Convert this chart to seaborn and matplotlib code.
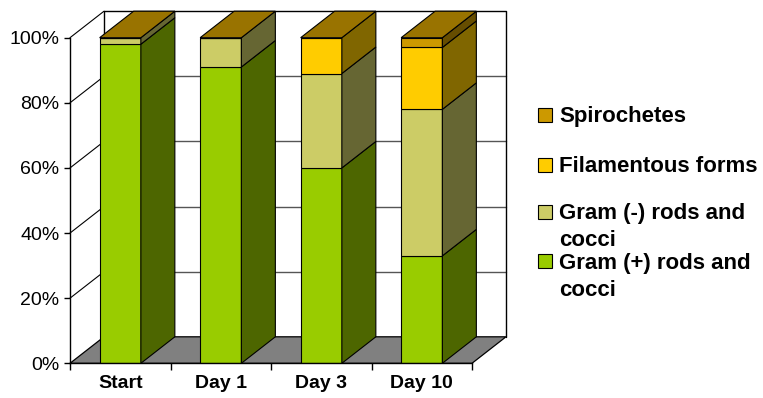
import numpy as np
import pandas as pd
import matplotlib
matplotlib.use("Agg")
import matplotlib.pyplot as plt
from matplotlib.patches import Polygon, Rectangle
from matplotlib.colors import to_rgb
import seaborn as sns

# Share of each morphotype (%) per sampling time
days = ["Start", "Day 1", "Day 3", "Day 10"]
gram_pos = [98, 91, 60, 33]
gram_neg = [2, 9, 29, 45]
filamentous = [0, 0, 11, 19]
spirochetes = [0, 0, 0, 3]

series_names = ["Gram (+) rods and\ncocci", "Gram (-) rods and\ncocci",
                "Filamentous forms", "Spirochetes"]
series_values = [gram_pos, gram_neg, filamentous, spirochetes]
series_colors = ["#99CC00", "#CCCC66", "#FFCC00", "#CC9900"]
y_ticks = [0, 20, 40, 60, 80, 100]


def shade(color, k):
    r, g, b = to_rgb(color)
    return (r * k, g * k, b * k)


sns.set_theme(style="white")
plt.rcParams["font.family"] = ["Liberation Sans", "DejaVu Sans"]
plt.rcParams.update({"text.color": "black", "xtick.color": "black",
                     "ytick.color": "black", "axes.labelcolor": "black"})

W, H = 763, 398
fig = plt.figure(figsize=(W / 100, H / 100), dpi=100)
# plot area: front-left corner of the box
x0, x1, y0, y1 = 70, 472, 363.3, 37.7
ax = fig.add_axes([x0 / W, 1 - y0 / H, (x1 - x0) / W, (y0 - y1) / H])

# depth of the 3-D box in data units
dx = 34 / ((x1 - x0) / 4)
dy = 26.5 / ((y0 - y1) / 100)
bar_w = 0.41
xl, xr = -0.5, 3.5

# back wall: gridlines, top and right edges
for v in y_ticks[1:-1]:
    ax.plot([xl + dx, xr + dx], [v + dy, v + dy], color="#555555", lw=1.0,
            zorder=0.5, clip_on=False)
ax.plot([xl + dx, xr + dx, xr + dx], [100 + dy, 100 + dy, dy], color="black",
        lw=1.0, zorder=0.5, clip_on=False)
ax.plot([xl + dx, xl + dx], [dy, 100 + dy], color="black", lw=1.0,
        zorder=0.5, clip_on=False)
# left wall diagonals
for v in y_ticks[1:]:
    ax.plot([xl, xl + dx], [v, v + dy], color="black", lw=0.8,
            zorder=0.6, clip_on=False)
# floor
ax.add_patch(Polygon([(xl, 0), (xr, 0), (xr + dx, dy), (xl + dx, dy)],
                     closed=True, facecolor="#808080", edgecolor="black",
                     lw=0.9, zorder=0.7, clip_on=False))

# front faces of the stacked bars
bottom = np.zeros(len(days))
for name, vals, col in zip(series_names, series_values, series_colors):
    df = pd.DataFrame({"day": days, "pct": vals})
    sns.barplot(data=df, x="day", y="pct", order=days, bottom=bottom.copy(),
                color=col, saturation=1, width=bar_w, edgecolor="black",
                linewidth=0.8, errorbar=None, zorder=3, ax=ax)
    bottom = bottom + np.array(vals, dtype=float)

# side faces and top faces
for i in range(len(days)):
    left, right = i - bar_w / 2, i + bar_w / 2
    base = 0.0
    for vals, col in zip(series_values, series_colors):
        top = base + vals[i]
        if vals[i] > 0:
            ax.add_patch(Polygon([(right, base), (right + dx, base + dy),
                                  (right + dx, top + dy), (right, top)],
                                 closed=True, facecolor=shade(col, 0.5),
                                 edgecolor="black", lw=0.8, zorder=3,
                                 clip_on=False))
        base = top
    ax.add_patch(Polygon([(left, base), (right, base), (right + dx, base + dy),
                          (left + dx, base + dy)], closed=True,
                         facecolor=shade(series_colors[-1], 0.75),
                         edgecolor="black", lw=0.8, zorder=3.5, clip_on=False))

ax.set_xlim(xl, xr)
ax.set_ylim(0, 100)
ax.set_xlabel("")
ax.set_ylabel("")
for s in ["top", "right"]:
    ax.spines[s].set_visible(False)
for s in ["left", "bottom"]:
    ax.spines[s].set_color("black")
    ax.spines[s].set_linewidth(1.0)
    ax.spines[s].set_zorder(4)

ax.set_yticks(y_ticks)
ax.set_yticklabels([f"{v}%" for v in y_ticks])
ax.tick_params(axis="y", which="major", length=4, width=1, color="black",
               labelcolor="black", pad=3.5, labelsize=14, left=True)
ax.set_xticks(range(len(days)))
ax.set_xticklabels(days, fontweight="bold")
ax.set_xticks(np.arange(xl, xr + 0.5, 1), minor=True)
ax.tick_params(axis="x", which="major", length=0, pad=8.5, labelsize=14,
               labelcolor="black")
ax.tick_params(axis="x", which="minor", length=5, width=1, color="black",
               bottom=True)

# legend, top entry first; y is the pixel row of the first text baseline
legend_rows = [(3, 122), (2, 172), (1, 218.5), (0, 268)]
line_gap = 27.5
for idx, base_y in legend_rows:
    fig.patches.append(Rectangle((538 / W, 1 - base_y / H), 14 / W, 14 / H,
                                 transform=fig.transFigure,
                                 facecolor=series_colors[idx],
                                 edgecolor="black", lw=0.8))
    n_extra = series_names[idx].count("\n")
    last_y = base_y + n_extra * line_gap
    fig.text(559 / W, 1 - last_y / H, series_names[idx], fontsize=16,
             fontweight="bold", ha="left", va="baseline", linespacing=1.37,
             color="black")

fig.savefig("out.png", dpi=100, facecolor="white")
